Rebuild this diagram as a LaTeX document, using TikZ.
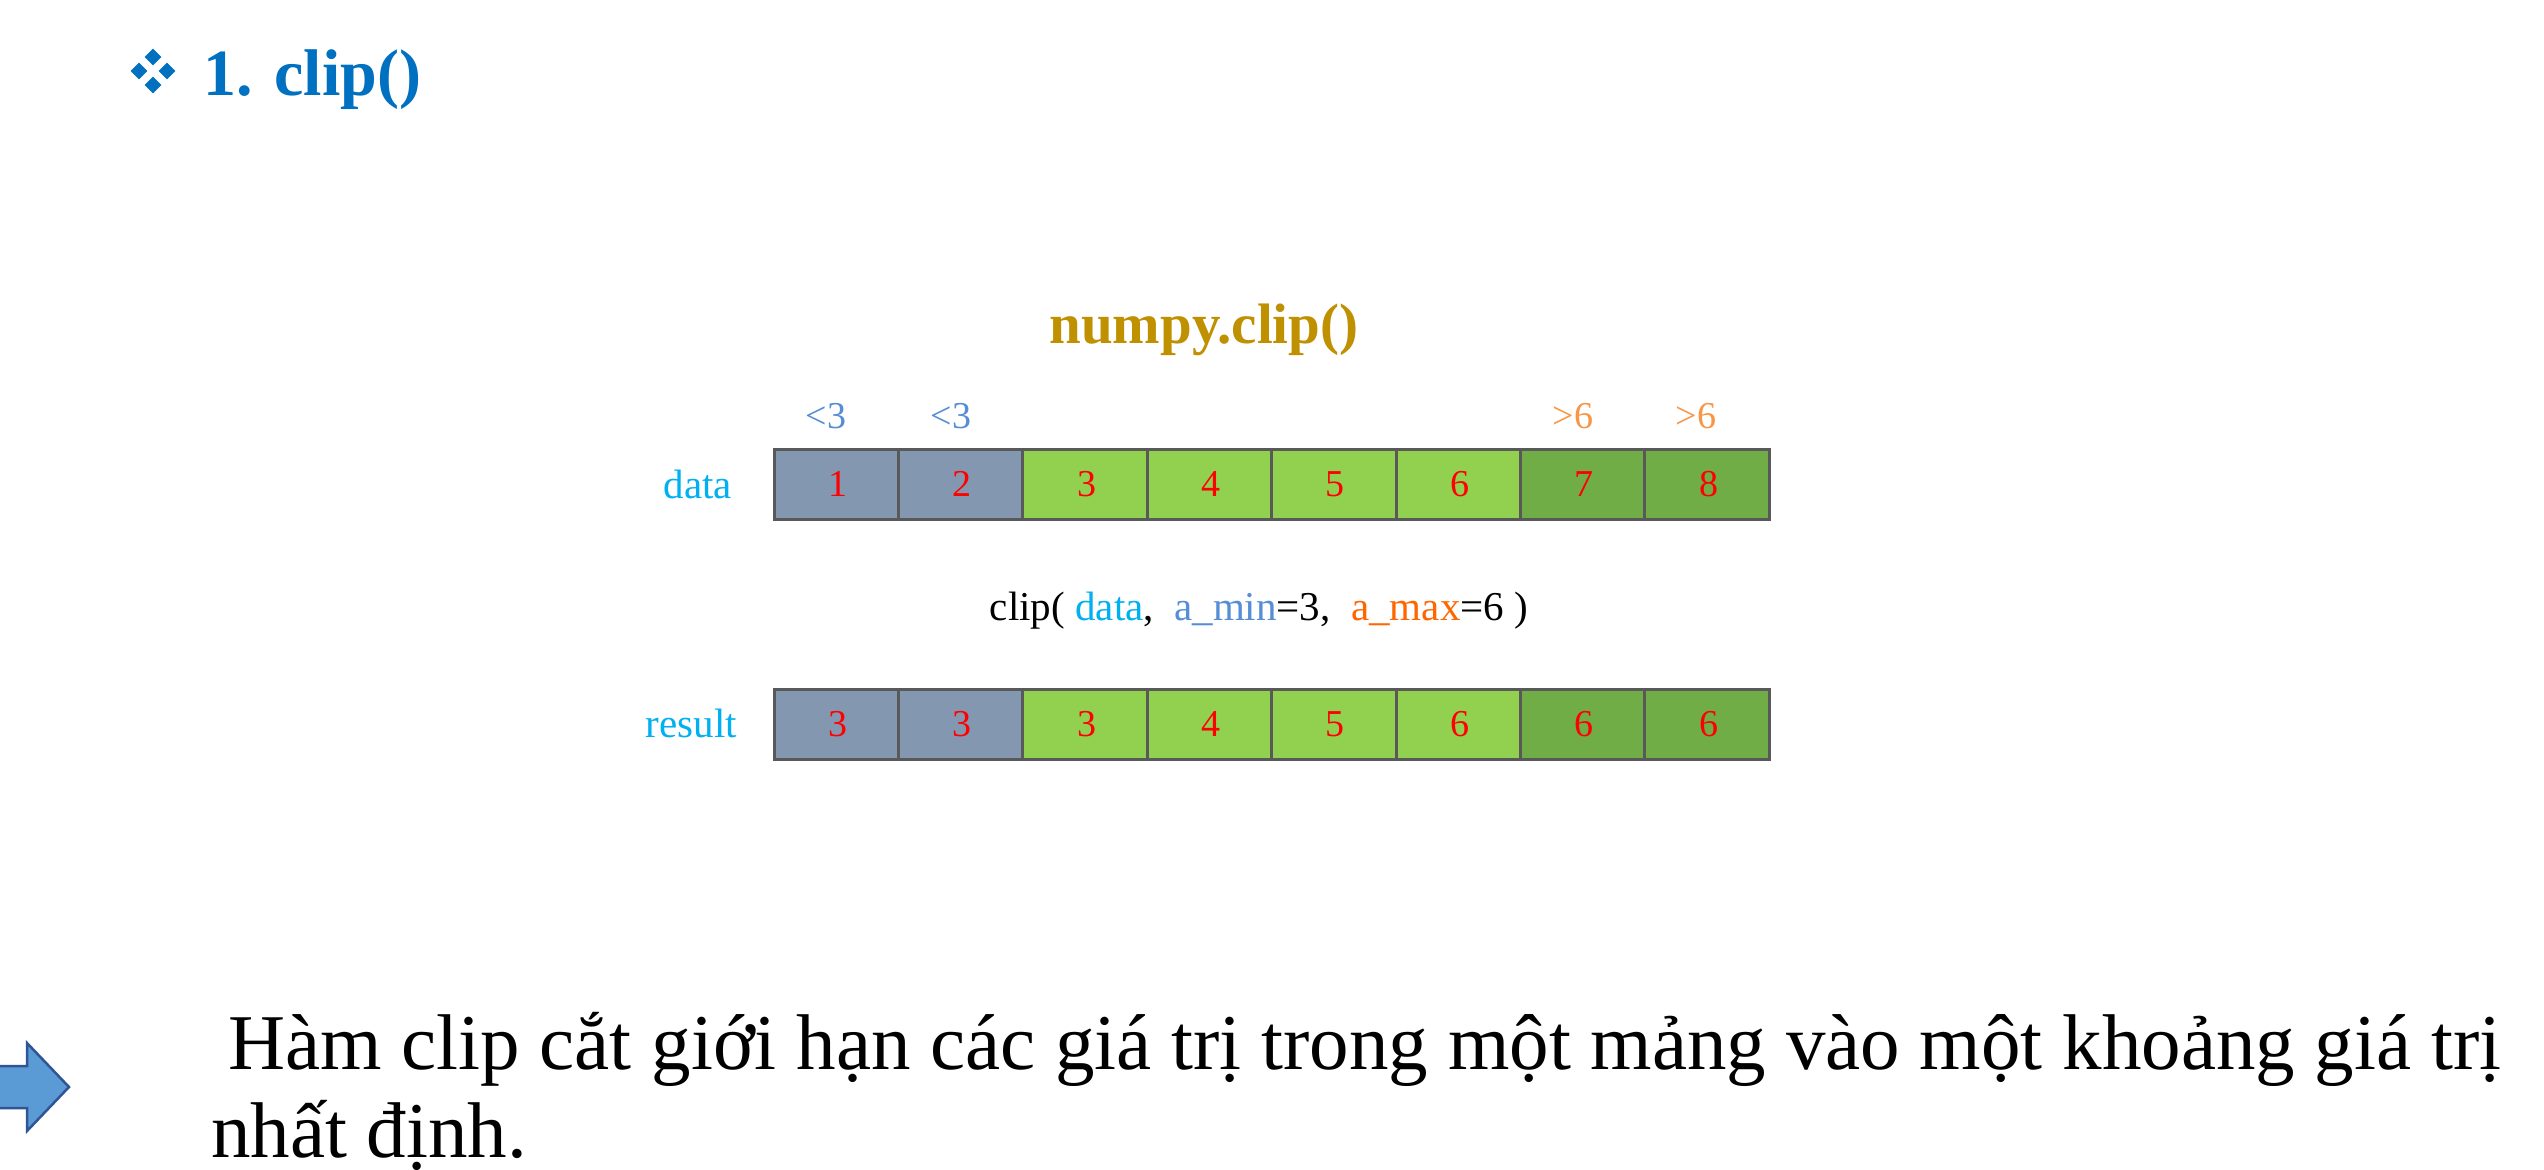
\documentclass[tikz,border=0pt]{standalone}
\usepackage{fontspec}
\setmainfont{Liberation Serif}
\usetikzlibrary{positioning}

\definecolor{titleblue}{HTML}{0070C0}
\definecolor{gold}{HTML}{BF9000}
\definecolor{labelcyan}{HTML}{00B0F0}
\definecolor{minblue}{HTML}{558ED5}
\definecolor{maxorange}{HTML}{F79646}
\definecolor{argorange}{HTML}{FF6600}
\definecolor{cellgray}{HTML}{8497B0}
\definecolor{celllight}{HTML}{92D050}
\definecolor{celldark}{HTML}{70AD47}
\definecolor{cellborder}{HTML}{595959}
\definecolor{arrowfill}{HTML}{5B9BD5}
\definecolor{arrowedge}{HTML}{2F5597}

\tikzset{
  cellbox/.style={draw=cellborder, line width=3pt, minimum width=124.4pt,
    minimum height=70pt, inner sep=0pt, outer sep=0pt, text=red,
    font=\fontsize{38}{40}\selectfont},
  rowlabel/.style={anchor=base east, inner sep=0pt, text=labelcyan,
    font=\fontsize{41}{44}\selectfont},
  condlabel/.style={anchor=base, inner sep=0pt, font=\fontsize{38}{40}\selectfont},
  bullet/.style={fill=titleblue, draw=none, shape=rectangle, rotate=45,
    minimum size=12pt, inner sep=0pt},
  explain/.style={anchor=base west, inner sep=0pt, font=\fontsize{79}{90}\selectfont},
}

\begin{document}
\begin{tikzpicture}[x=1pt, y=-1pt]
\useasboundingbox (0,0) rectangle (2544,1170);
\clip (0,0) rectangle (2544,1170);
\fill[white] (0,0) rectangle (2544,1170);

% heading with its four-diamond bullet
\node[bullet] (b1) at (153,57) {};
\node[bullet] (b2) at (139,71) {};
\node[bullet] (b3) at (167,71) {};
\node[bullet] (b4) at (153,85) {};
\node[anchor=base west, inner sep=0pt, text=titleblue,
  font=\fontsize{66}{76}\selectfont\bfseries] (title) at (203,95) {1. clip()};

% function name
\node[anchor=base, inner sep=0pt, text=gold,
  font=\fontsize{57}{64}\selectfont\bfseries] (fname) at (1204,343) {numpy.clip()};

% conditions above the input cells
\node[condlabel, text=minblue] (c1) at (826,428) {<3};
\node[condlabel, text=minblue] (c2) at (951,428) {<3};
\node[condlabel, text=maxorange] (c7) at (1573,428) {>6};
\node[condlabel, text=maxorange] (c8) at (1696,428) {>6};

% input array
\node[rowlabel] (datalabel) at (732,498) {data};
\foreach \i/\v/\c in {1/1/cellgray,2/2/cellgray,3/3/celllight,4/4/celllight,
                      5/5/celllight,6/6/celllight,7/7/celldark,8/8/celldark}{
  \node[cellbox, fill=\c] (d\i) at ({774+124.4*(\i-0.5)},484) {\hspace*{3pt}\v};
}

% call
\node[anchor=base, inner sep=0pt, font=\fontsize{41}{44}\selectfont] (call) at (1259,620)
  {clip( \textcolor{labelcyan}{data},\ \ \textcolor{minblue}{a\_min}=3,\ \ \textcolor{argorange}{a\_max}=6 )};

% output array
\node[rowlabel] (resultlabel) at (737,737) {result};
\foreach \i/\v/\c in {1/3/cellgray,2/3/cellgray,3/3/celllight,4/4/celllight,
                      5/5/celllight,6/6/celllight,7/6/celldark,8/6/celldark}{
  \node[cellbox, fill=\c] (r\i) at ({774+124.4*(\i-0.5)},724) {\hspace*{3pt}\v};
}

% block arrow and explanation
\draw[fill=arrowfill, draw=arrowedge, line width=2.5pt, line join=miter]
  (-10,1066) -- (27,1066) -- (27,1043) -- (69,1087) -- (27,1131) -- (27,1108) -- (-10,1108) -- cycle;
\node[explain] (expl1) at (228,1069)
  {Hàm clip cắt giới hạn các giá trị trong một mảng vào một khoảng giá trị};
\node[explain] (expl2) at (211,1157) {nhất định.};
\end{tikzpicture}
\end{document}
